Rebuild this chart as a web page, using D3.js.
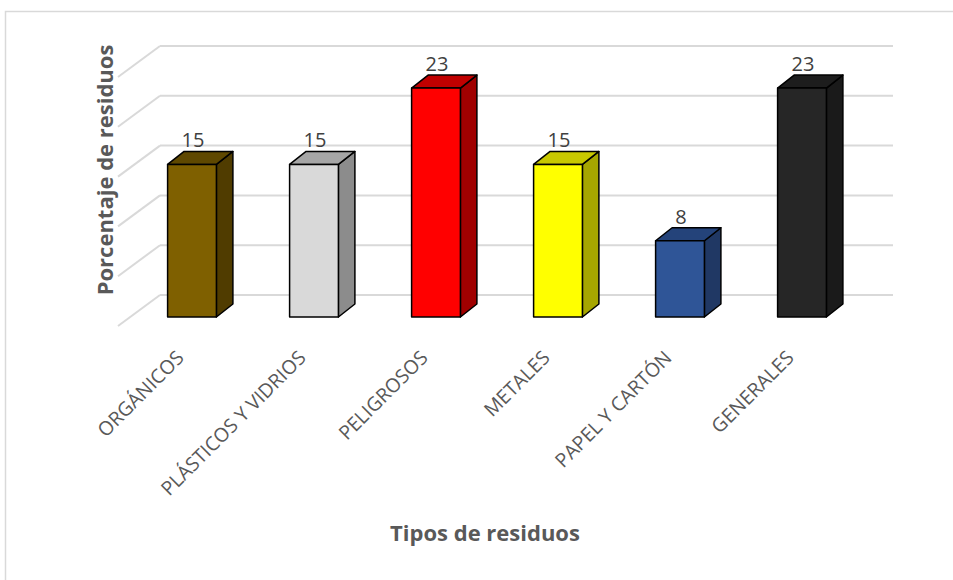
<!DOCTYPE html>
<html>
<head>
<meta charset="utf-8">
<script src="https://cdn.jsdelivr.net/npm/d3@7.9.0/dist/d3.min.js"></script>
<style>
  body { margin: 0; background: #fff; }
  text { font-family: 'Open Sans', sans-serif; }
</style>
</head>
<body>
<div id="chart"></div>
<script>
// residue types and share (%) - 2/13, 3/13, 1/13 of the total
const categories = ['ORGÁNICOS', 'PLÁSTICOS Y VIDRIOS', 'PELIGROSOS', 'METALES', 'PAPEL Y CARTÓN', 'GENERALES'];
const values = [15.38, 15.38, 23.08, 15.38, 7.69, 23.08];
const gridTicks = [0, 5, 10, 15, 20, 25];

// front / top / side colour for each bar
const frontColors = ['#7f6000', '#d9d9d9', '#ff0000', '#ffff00', '#2f5597', '#262626'];
const topColors = ['#5f4800', '#a6a6a6', '#c00000', '#c8c800', '#24437a', '#1d1d1d'];
const sideColors = ['#503c00', '#8c8c8c', '#a00000', '#a6a600', '#203864', '#1a1a1a'];

const width = 953;
const height = 580;

const svg = d3.select('#chart')
  .append('svg')
  .attr('width', width)
  .attr('height', height);

// chart area border
svg.append('rect')
  .attr('x', 5.5).attr('y', 11.5)
  .attr('width', 960).attr('height', 600)
  .attr('fill', 'none')
  .attr('stroke', '#d9d9d9')
  .attr('stroke-width', 1.5);

// back wall scale and front face scale
const wallY = d3.scaleLinear().domain([0, 25]).range([295, 46]);
const barY = d3.scaleLinear().domain([0, 25]).range([317, 69]);

const xScale = d3.scaleBand()
  .domain(categories)
  .range([131, 863])
  .paddingInner(0.6)
  .paddingOuter(0.3);

const wallLeft = 160, wallRight = 893;
const sideDx = -42, sideDy = 31;   // left wall depth
const dx = 16.5, dy = -13;         // bar depth

// gridlines on back wall and side wall
const grid = svg.append('g').attr('class', 'gridlines')
  .attr('stroke', '#d9d9d9')
  .attr('stroke-width', 2);

grid.selectAll('line.back')
  .data(gridTicks)
  .join('line')
  .attr('class', 'back')
  .attr('x1', wallLeft).attr('x2', wallRight)
  .attr('y1', (d) => wallY(d)).attr('y2', (d) => wallY(d));

grid.selectAll('line.side')
  .data(gridTicks)
  .join('line')
  .attr('class', 'side')
  .attr('x1', wallLeft).attr('x2', wallLeft + sideDx)
  .attr('y1', (d) => wallY(d)).attr('y2', (d) => wallY(d) + sideDy);

// 3D bars
const bars = svg.append('g').attr('class', 'bars')
  .selectAll('g')
  .data(values)
  .join('g')
  .attr('stroke', '#000')
  .attr('stroke-width', 1.5)
  .attr('stroke-linejoin', 'round');

const w = xScale.bandwidth();

bars.append('polygon')
  .attr('fill', (d, i) => sideColors[i])
  .attr('points', (d, i) => {
    const x = xScale(categories[i]) + w;
    const y0 = barY(0), y1 = barY(d);
    return [[x, y1], [x + dx, y1 + dy], [x + dx, y0 + dy], [x, y0]].join(' ');
  });

bars.append('polygon')
  .attr('fill', (d, i) => topColors[i])
  .attr('points', (d, i) => {
    const x = xScale(categories[i]);
    const y1 = barY(d);
    return [[x, y1], [x + dx, y1 + dy], [x + w + dx, y1 + dy], [x + w, y1]].join(' ');
  });

bars.append('rect')
  .attr('fill', (d, i) => frontColors[i])
  .attr('x', (d, i) => xScale(categories[i]))
  .attr('y', (d) => barY(d))
  .attr('width', w)
  .attr('height', (d) => barY(0) - barY(d));

// value labels
svg.append('g')
  .selectAll('text')
  .data(values)
  .join('text')
  .attr('x', (d, i) => xScale(categories[i]) + w / 2 + 1)
  .attr('y', (d) => barY(d) - 17)
  .attr('text-anchor', 'middle')
  .attr('font-size', 20)
  .attr('fill', '#404040')
  .text((d) => d3.format('.0f')(d));

// category labels
svg.append('g')
  .selectAll('text')
  .data(categories)
  .join('text')
  .attr('text-anchor', 'end')
  .attr('font-size', 19.5)
  .attr('fill', '#595959')
  .attr('transform', (d) => `translate(${xScale(d) + w / 2 - 7}, 359) rotate(-45)`)
  .text((d) => d);

// axis titles
svg.append('text')
  .attr('transform', 'translate(113, 170) rotate(-90)')
  .attr('text-anchor', 'middle')
  .attr('font-size', 22)
  .attr('font-weight', 'bold')
  .attr('fill', '#595959')
  .text('Porcentaje de residuos');

svg.append('text')
  .attr('x', 485)
  .attr('y', 541)
  .attr('text-anchor', 'middle')
  .attr('font-size', 22)
  .attr('font-weight', 'bold')
  .attr('fill', '#595959')
  .text('Tipos de residuos');
</script>
</body>
</html>
